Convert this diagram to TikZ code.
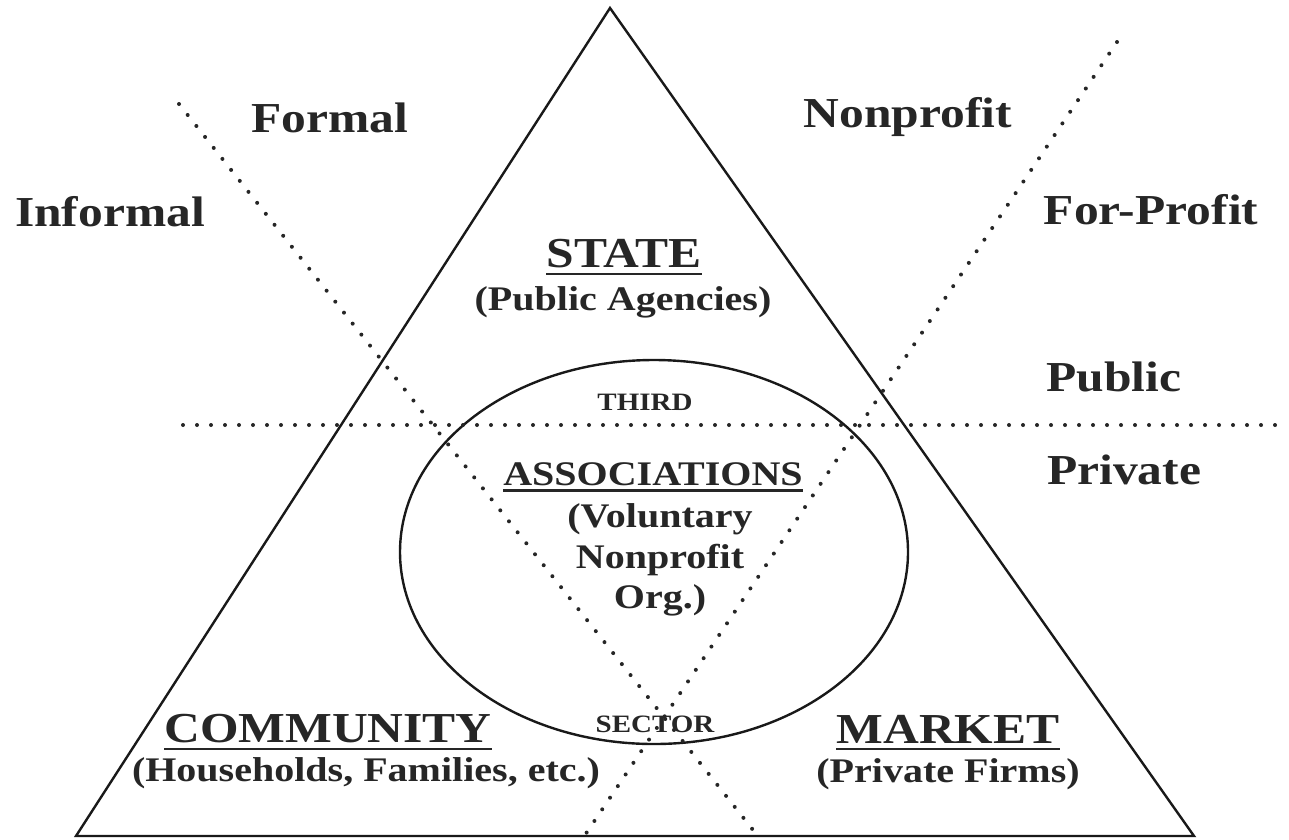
\documentclass[tikz,border=0pt]{standalone}
\usepackage{fontspec}
\setmainfont{Liberation Serif}[FakeStretch=1.16]

\begin{document}
\begin{tikzpicture}[x=1pt, y=-1pt,
    bigtxt/.style={text=black!85, inner sep=0pt, font=\fontsize{42.7}{46}\selectfont\bfseries},
    midtxt/.style={text=black!85, inner sep=0pt, align=center, font=\fontsize{34.5}{40.5}\selectfont\bfseries},
    smalltxt/.style={text=black!85, inner sep=0pt, font=\fontsize{25}{28}\selectfont\bfseries},
    edgeline/.style={line width=2.4pt, black!90},
    uline/.style={line width=2.6pt, black!85},
    dots/.style={line width=4pt, line cap=round, dash pattern=on 0pt off 14pt, black!85}]
    \useasboundingbox (0,0) rectangle (1289,839);

    % Triangolo e cerchio del terzo settore
    \coordinate (apex) at (610,8);
    \coordinate (lcorner) at (76,836);
    \coordinate (rcorner) at (1194,836);
    \draw[edgeline] (apex) -- (lcorner) -- (rcorner) -- cycle;
    \draw[edgeline] (654,552) ellipse [x radius=254pt, y radius=192pt];

    % Linee punteggiate
    \coordinate (hl) at (183,425);
    \coordinate (hr) at (1289,425);
    \coordinate (dtop) at (179,104);
    \coordinate (dbot) at (757,835);
    \coordinate (atop) at (1117,42);
    \coordinate (abot) at (585,835);
    \draw[dots] (hl) -- (hr);    % public / private
    \draw[dots] (dtop) -- (dbot); % formal / informal
    \draw[dots] (atop) -- (abot); % nonprofit / for-profit

    % Etichette esterne
    \node[bigtxt] (formal) at (330,118) {Formal};
    \node[bigtxt] (informal) at (110,212) {Informal};
    \node[bigtxt] (nonprofit) at (908,117) {Nonprofit};
    \node[bigtxt] (forprofit) at (1151,210) {For-Profit};
    \node[bigtxt] (public) at (1114,377) {Public};
    \node[bigtxt] (private) at (1124,470) {Private};

    % Vertici del triangolo
    \node[bigtxt] (state) at (624,254) {STATE};
    \node[midtxt] (statesub) at (623,302) {(Public Agencies)};
    \node[bigtxt] (community) at (328,729) {COMMUNITY};
    \node[midtxt] (communitysub) at (366,773) {(Households, Families, etc.)};
    \node[bigtxt] (market) at (948,729) {MARKET};
    \node[midtxt] (marketsub) at (948,774) {(Private Firms)};

    % Terzo settore
    \node[smalltxt] (third) at (645,402) {THIRD};
    \node[midtxt] (assoc) at (653,474) {ASSOCIATIONS};
    \node[midtxt] (assocsub) at (660,560) {(Voluntary\\Nonprofit\\Org.)};
    \node[smalltxt] (sector) at (655,724) {SECTOR};

    % Sottolineature
    \draw[uline] ([yshift=-6pt]state.base west) -- ([yshift=-6pt]state.base east);
    \draw[uline] ([yshift=-5pt]assoc.base west) -- ([yshift=-5pt]assoc.base east);
    \draw[uline] ([yshift=-6pt]community.base west) -- ([yshift=-6pt]community.base east);
    \draw[uline] ([yshift=-6pt]market.base west) -- ([yshift=-6pt]market.base east);

\end{tikzpicture}
\end{document}
